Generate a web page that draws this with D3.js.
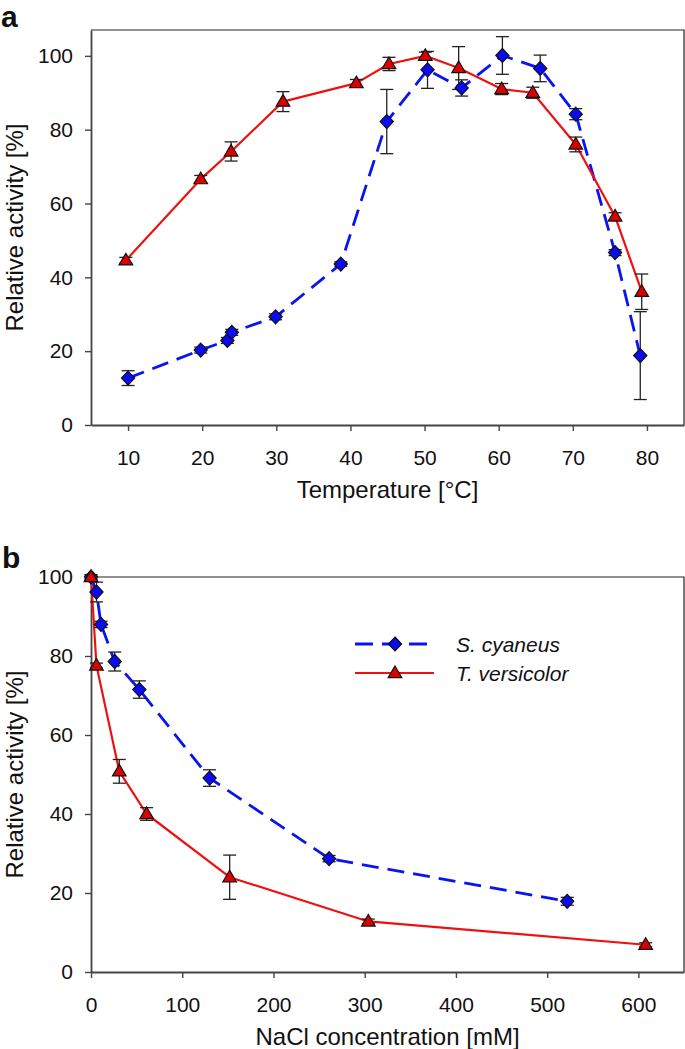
<!DOCTYPE html>
<html>
<head>
<meta charset="utf-8">
<script src="https://cdn.jsdelivr.net/npm/d3@7"></script>
<style>
  html, body { margin: 0; padding: 0; background: #fff; }
  svg { display: block; }
  text { font-family: "Liberation Sans", Arial, Helvetica, sans-serif; fill: #111; }
</style>
</head>
<body>
<svg id="chart" width="685" height="1049"></svg>
<script>
// ---------- Data (panel a: temperature) ----------
const tempCyaneusX   = [10, 19.8, 23.4, 24.0, 29.9, 38.7, 44.9, 50.4, 55.0, 60.5, 65.6, 70.4, 75.7, 79.1];
const tempCyaneusY   = [12.7, 20.3, 22.9, 25.1, 29.3, 43.6, 82.2, 96.2, 91.3, 100.1, 96.6, 84.2, 46.7, 18.8];
const tempCyaneusErr = [2.0, 0.8, 0.8, 0.8, 0.8, 0.6, 8.7, 5.0, 2.2, 5.1, 3.6, 1.5, 0.8, 11.9];

const tempVersX   = [9.7, 19.8, 23.9, 30.9, 40.8, 45.2, 50.1, 54.6, 60.4, 64.6, 70.4, 75.7, 79.3];
const tempVersY   = [44.6, 66.6, 74.1, 87.6, 92.6, 97.8, 100.0, 96.7, 91.0, 90.0, 76.0, 56.5, 36.1];
const tempVersErr = [0.8, 1.0, 2.6, 2.7, 1.0, 1.8, 1.0, 5.8, 1.5, 1.5, 2.0, 1.0, 4.8];

const tempTicks = [10, 20, 30, 40, 50, 60, 70, 80];
const actTicks  = [0, 20, 40, 60, 80, 100];

// ---------- Data (panel b: NaCl) ----------
const naclCyaneusX   = [0, 6, 11, 26, 53, 130, 261, 522];
const naclCyaneusY   = [100, 96.2, 88.0, 78.6, 71.5, 49.1, 28.7, 17.9];
const naclCyaneusErr = [0.5, 2.5, 0.8, 2.4, 2.2, 2.1, 0.8, 1.0];

const naclVersX   = [0, 6, 31, 61, 152, 304, 608];
const naclVersY   = [100, 77.6, 50.8, 40.0, 24.0, 12.8, 6.9];
const naclVersErr = [0.6, 0.6, 3.0, 1.6, 5.6, 0.6, 0.5];

const naclTicks = [0, 100, 200, 300, 400, 500, 600];

const seriesNames = ["S. cyaneus", "T. versicolor"];

// ---------- Styles ----------
const BLUE = "#0a14f0", BLUE_FILL = "#0a0af5";
const RED = "#ee1111", RED_FILL = "#dd0000";

const svg = d3.select("#chart");

function zip(xs, ys, es) { return xs.map((x, i) => ({x, y: ys[i], e: es[i]})); }

function diamondPath(cx, cy) {
  const w = 6.6, h = 7.0;
  return `M${cx},${cy-h}L${cx+w},${cy}L${cx},${cy+h}L${cx-w},${cy}Z`;
}
function trianglePath(cx, cy) {
  const w = 6.8, hTop = 7.0, hBot = 4.6;
  return `M${cx},${cy-hTop}L${cx+w},${cy+hBot}L${cx-w},${cy+hBot}Z`;
}

function drawPanel(opts) {
  const {left, right, top, bottom, xDomain, yDomain, xTicks, xTitle, label, labelX, labelY, series} = opts;
  const x = d3.scaleLinear().domain(xDomain).range([left, right]);
  const y = d3.scaleLinear().domain(yDomain).range([bottom, top]);
  const g = svg.append("g");

  // frame (top / right)
  g.append("path")
    .attr("d", `M${left},${top}H${right}V${bottom}`)
    .attr("fill", "none").attr("stroke", "#222").attr("stroke-width", 1.2);

  // axes
  const xAxis = g.append("g").attr("transform", `translate(0,${bottom})`)
    .call(d3.axisBottom(x).tickValues(xTicks).tickSize(6).tickSizeOuter(0).tickPadding(19));
  const yAxis = g.append("g").attr("transform", `translate(${left},0)`)
    .call(d3.axisLeft(y).tickValues(actTicks).tickSize(6).tickSizeOuter(0).tickPadding(12));
  [xAxis, yAxis].forEach(a => {
    a.select(".domain").attr("stroke", "#444").attr("stroke-width", 1.8);
    a.selectAll(".tick line").attr("stroke", "#444").attr("stroke-width", 1.4);
    a.selectAll(".tick text").attr("font-size", 21).attr("fill", "#111")
      .style("font-family", '"Liberation Sans", Arial, sans-serif');
  });

  // axis titles
  g.append("text").attr("x", (left + right) / 2).attr("y", bottom + 73)
    .attr("text-anchor", "middle").attr("font-size", 24).text(xTitle);
  g.append("text")
    .attr("transform", `translate(23,${(top + bottom) / 2}) rotate(-90)`)
    .attr("text-anchor", "middle").attr("font-size", 24).text("Relative activity [%]");

  // panel label
  g.append("text").attr("x", labelX).attr("y", labelY)
    .attr("font-size", 30).attr("font-weight", "bold").text(label);

  const line = d3.line().x(d => x(d.x)).y(d => y(d.y));

  // lines
  series.forEach(s => {
    g.append("path").datum(s.data).attr("d", line)
      .attr("fill", "none").attr("stroke", s.color)
      .attr("stroke-width", s.dashed ? 2.8 : 2.2)
      .attr("stroke-linejoin", "round")
      .attr("stroke-dasharray", s.dashed ? "17,9" : null);
  });
  // error bars
  series.forEach(s => {
    const eb = g.append("g").attr("stroke", "#222").attr("stroke-width", 1.3);
    s.data.forEach(d => {
      const cx = x(d.x), y1 = y(d.y + d.e), y2 = y(d.y - d.e);
      eb.append("line").attr("x1", cx).attr("x2", cx).attr("y1", y1).attr("y2", y2);
      eb.append("line").attr("x1", cx - 6.5).attr("x2", cx + 6.5).attr("y1", y1).attr("y2", y1);
      eb.append("line").attr("x1", cx - 6.5).attr("x2", cx + 6.5).attr("y1", y2).attr("y2", y2);
    });
  });
  // markers
  series.forEach(s => {
    g.append("g").selectAll("path").data(s.data).join("path")
      .attr("d", d => s.shape(x(d.x), y(d.y)))
      .attr("fill", s.fill).attr("stroke", "#111").attr("stroke-width", 1.2);
  });
  return {x, y, g};
}

// Panel a
drawPanel({
  left: 91, right: 684, top: 30, bottom: 425,
  xDomain: [5, 85], yDomain: [0, 107], xTicks: tempTicks,
  xTitle: "Temperature [°C]", label: "a", labelX: 1, labelY: 27,
  series: [
    {data: zip(tempCyaneusX, tempCyaneusY, tempCyaneusErr), color: BLUE, fill: BLUE_FILL, dashed: true, shape: diamondPath},
    {data: zip(tempVersX, tempVersY, tempVersErr), color: RED, fill: RED_FILL, dashed: false, shape: trianglePath}
  ]
});

// Panel b
drawPanel({
  left: 91, right: 684, top: 577, bottom: 972,
  xDomain: [0, 650], yDomain: [0, 100], xTicks: naclTicks,
  xTitle: "NaCl concentration [mM]", label: "b", labelX: 2, labelY: 568,
  series: [
    {data: zip(naclCyaneusX, naclCyaneusY, naclCyaneusErr), color: BLUE, fill: BLUE_FILL, dashed: true, shape: diamondPath},
    {data: zip(naclVersX, naclVersY, naclVersErr), color: RED, fill: RED_FILL, dashed: false, shape: trianglePath}
  ]
});

// Legend (panel b)
const legend = svg.append("g");
const legendItems = [
  {name: seriesNames[0], color: BLUE, fill: BLUE_FILL, dashed: true, shape: diamondPath, y: 644},
  {name: seriesNames[1], color: RED, fill: RED_FILL, dashed: false, shape: trianglePath, y: 673}
];
legendItems.forEach(it => {
  legend.append("line").attr("x1", 355).attr("x2", 434).attr("y1", it.y).attr("y2", it.y)
    .attr("stroke", it.color).attr("stroke-width", it.dashed ? 2.8 : 2.2)
    .attr("stroke-dasharray", it.dashed ? "18,9" : null);
  legend.append("path").attr("d", it.shape(395, it.y))
    .attr("fill", it.fill).attr("stroke", "#111").attr("stroke-width", 1.2);
  legend.append("text").attr("x", 456).attr("y", it.y + 7.5)
    .attr("font-size", 21).attr("font-style", "italic").text(it.name);
});
</script>
</body>
</html>
